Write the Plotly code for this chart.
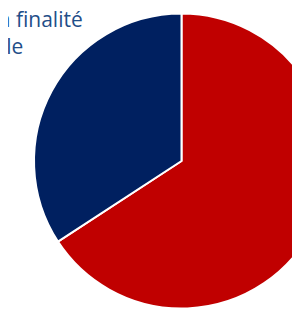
import plotly.graph_objects as go

labels = ["Autre", "Dépenses à finalité sociale"]
values = [65.8, 34.2]
colors = ["#C00000", "#002060"]
title_text = "Dépenses à finalité<br>sociale"

W, H = 330, 309
fig = go.Figure(go.Pie(
    labels=labels, values=values, sort=False, direction="clockwise", rotation=0,
    marker=dict(colors=colors, line=dict(color="white", width=2)),
    textinfo="none", hoverinfo="label+percent", showlegend=False,
    domain=dict(x=[26.0 / W, 321.0 / W], y=[1 - 300.5 / H, 1 - 5.5 / H]),
))
fig.add_annotation(
    text=title_text, xref="paper", yref="paper", x=-18 / W, y=1 + 5 / H,
    xanchor="center", yanchor="top", align="center", showarrow=False,
    font=dict(family="Open Sans", size=21, color="#1F4E89"),
)
fig.update_layout(width=W, height=H, margin=dict(l=0, r=0, t=0, b=0),
                  paper_bgcolor="white", plot_bgcolor="white")
fig.write_html("out.html")
